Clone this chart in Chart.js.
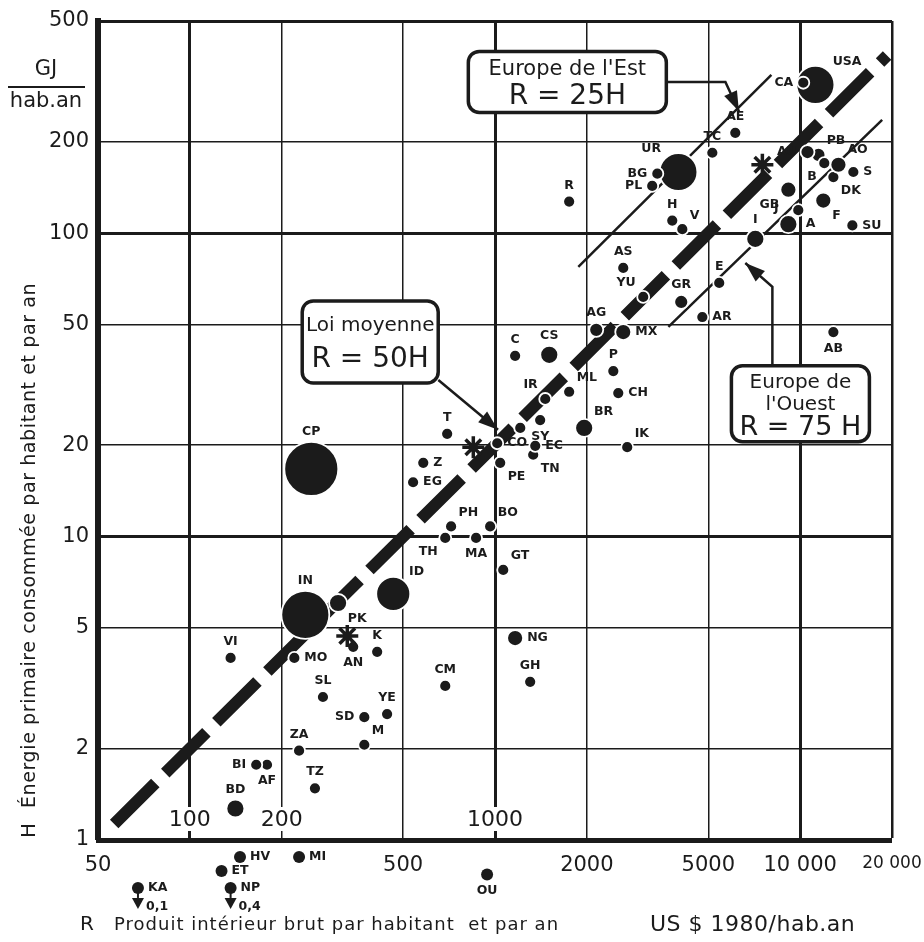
<!DOCTYPE html>
<html>
<head>
<meta charset="utf-8">
<script src="https://cdn.jsdelivr.net/npm/chart.js@4.4.1/dist/chart.umd.min.js"></script>
<style>
  html, body { margin: 0; padding: 0; background: #fff; }
  canvas { display: block; }
</style>
</head>
<body>
<canvas id="chart" width="924" height="942"></canvas>
<script>
// --- data (R = PIB US$/hab.an, H = GJ/hab.an) ---
var countries = ['USA', 'CA', 'UR', 'CP', 'IN', 'ID', 'BG', 'PL', 'AE', 'TC', 'R', 'H', 'V',
    'PB', 'AU', 'B', 'DK', 'S', 'AO', 'GB', 'F', 'A', 'J', 'SU', 'I', 'AS', 'YU', 'GR', 'E', 'AR',
    'AG', 'MX', 'AB', 'C', 'CS', 'P', 'CH', 'ML', 'IR', 'BR', 'IK', 'SY', '', 'TN', 'EC', 'CO',
    'PE', 'T', 'Z', 'EG', 'PH', 'BO', 'TH', 'MA', 'GT', 'PK', 'VI', 'MO', 'AN', 'K', 'SL', 'SD',
    'YE', 'ZA', 'M', 'AF', 'BI', 'TZ', 'BD', 'CM', 'NG', 'GH', 'HV', 'MI', 'ET', 'OU', 'KA', 'NP'];
var pib = [11220, 10240, 3990, 250, 239, 464, 3404, 3275, 6130, 5155, 1750, 3810, 4110,
    11480, 10570, 12000, 12850, 14940, 13350, 9150, 11910, 9860, 9150, 14830, 7130, 2632, 3060, 4077, 5430, 4780,
    2147, 2632, 12850, 1164, 1506, 2442, 2535, 1750, 1461, 1960, 2712, 1406, 1210, 1334, 1355, 1017,
    1040, 697, 582, 539, 718, 964, 687, 867, 1064, 306, 136, 220, 343, 411, 273, 373,
    443, 228, 373, 179, 165, 257, 141, 687, 1164, 1304, 146, 228, 127, 942, 67.6, 136];
var energie = [308, 313, 159, 16.7, 5.52, 6.47, 157, 143, 214, 184, 127, 110, 103,
    181, 185, 170, 153, 159, 168, 139, 128, 119, 107, 106, 95.7, 76.8, 61.6, 59.3, 68.5, 52.9,
    48.0, 47.2, 47.2, 39.4, 39.7, 35.1, 29.7, 30.0, 28.4, 22.8, 19.7, 24.2, 22.8, 18.6, 19.9, 20.3,
    17.5, 21.8, 17.5, 15.1, 10.8, 10.8, 9.9, 9.9, 7.76, 6.04, 3.98, 3.98, 4.33, 4.17, 2.96, 2.54,
    2.60, 1.97, 2.06, 1.77, 1.77, 1.48, 1.27, 3.22, 4.63, 3.32, 0.879, 0.879, 0.79, 0.77, 0.695, 0.695];
// true values of the two countries drawn below the frame
var offNotes = { KA: '0,1', NP: '0,4' };

// average markers (asterisks)
var starR = [849, 7520, 328];
var starH = [19.7, 168, 4.70];

// law lines, ends
var moyenneR = [56.5, 19270];
var moyenneH = [1.13, 385];
var estR = [1875, 8050];
var estH = [77.4, 332];
var ouestR = [3700, 18570];
var ouestH = [49.1, 236];

var xTicks = [50, 100, 200, 500, 1000, 2000, 5000, 10000, 20000];
var yTicks = [1, 2, 5, 10, 20, 50, 100, 200, 500];
var xInsideTicks = [100, 200, 1000];

// --- styles ---
var dotRadius = [19, 6, 19, 27, 24, 17, 6, 6, 6, 6, 6, 6, 6,
    7, 7, 6, 6, 6, 8, 8, 8, 6, 9, 6, 9, 6, 6, 7, 6, 6,
    7, 8, 6, 6, 9, 6, 6, 6, 6, 9, 6, 6, 6, 6, 6, 6,
    6, 6, 6, 6, 6, 6, 6, 6, 6, 9, 6, 6, 6, 6, 6, 6,
    6, 6, 6, 6, 6, 6, 9, 6, 8, 6, 6, 6, 6, 6, 6, 6];
var labelSide = ['tr', 'l', 'tl', 't', 't', 'tr', 'l', 'l', 't', 't', 't', 't', 'tr',
    'tr', 'l', 'bl', 'br', 'r', 'tr', 'bl', 'br', 'br', 'tl', 'r', 't', 't', 'tl', 't', 't', 'r',
    't', 'r', 'b', 't', 't', 't', 'r', 'tr', 'tl', 'tr', 'tr', 'b', '', 'br', 'r', 'r',
    'br', 't', 'r', 'r', 'tr', 'tr', 'bl', 'b', 'tr', 'br', 't', 'r', 'b', 't', 't', 'l',
    't', 't', 'tr', 'b', 'l', 't', 't', 't', 'r', 't', 'r', 'r', 'r', 'b', 'r', 'r'];
var ink = '#1b1b1b';

function pairs(xs, ys) {
    return xs.map(function (x, i) { return { x: x, y: ys[i] }; });
}

var callouts = [
    { rows: [["Europe de l'Est", 21, -12], ['R = 25H', 28, 15]], center: [1726, 315], w: 198, h: 61,
      arrow: [[3673, 315], [5690, 315], [6300, 252]] },
    { rows: [['Loi moyenne', 20, -16], ['R = 50H', 28, 18]], center: [390, 43.8], w: 136, h: 82,
      arrow: [[652, 32.8], [1023, 22.5]] },
    { rows: [['Europe de', 20, -21], ["l'Ouest", 20, 1], ['R = 75 H', 27, 24]], center: [10020, 27.4], w: 138, h: 76,
      arrow: [[8110, 36.5], [8110, 66.5], [6610, 79.7]] }
];

var pointLabels = {
    id: 'pointLabels',
    afterDatasetsDraw: function (chart) {
        var meta = chart.getDatasetMeta(3);
        var ctx = chart.ctx, area = chart.chartArea;
        ctx.save();
        ctx.fillStyle = ink;
        ctx.font = 'bold 12.5px "DejaVu Sans"';
        meta.data.forEach(function (el, i) {
            var name = countries[i];
            if (el.y > area.bottom) {
                // Chart.js skips points outside the frame: draw those here
                ctx.beginPath();
                ctx.arc(el.x, el.y, dotRadius[i], 0, Math.PI * 2);
                ctx.fill();
            }
            if (!name) return;
            var d = dotRadius[i] + 4;
            var side = labelSide[i];
            var dx = 0, dy = 0;
            if (side.indexOf('r') >= 0) dx = d;
            if (side.indexOf('l') >= 0) dx = -d;
            if (side.indexOf('t') >= 0) dy = -d;
            if (side.indexOf('b') >= 0) dy = d;
            if (side.length === 2) { dx *= 0.75; dy *= 0.75; }
            ctx.textAlign = dx > 0 ? 'left' : (dx < 0 ? 'right' : 'center');
            ctx.textBaseline = dy < 0 ? 'bottom' : (dy > 0 ? 'top' : 'middle');
            ctx.fillText(name, el.x + dx, el.y + dy);
            if (offNotes[name]) {
                // arrow down to the true value
                ctx.fillRect(el.x - 1, el.y, 2, 10);
                ctx.beginPath();
                ctx.moveTo(el.x - 6, el.y + 10);
                ctx.lineTo(el.x + 6, el.y + 10);
                ctx.lineTo(el.x, el.y + 21);
                ctx.closePath();
                ctx.fill();
                ctx.textAlign = 'left';
                ctx.textBaseline = 'middle';
                ctx.fillText(offNotes[name], el.x + 8, el.y + 19);
            }
        });
        ctx.restore();
    }
};

var calloutPlugin = {
    id: 'callouts',
    afterDatasetsDraw: function (chart) {
        var ctx = chart.ctx, sx = chart.scales.x, sy = chart.scales.y;
        ctx.save();
        callouts.forEach(function (c) {
            var cx = sx.getPixelForValue(c.center[0]), cy = sy.getPixelForValue(c.center[1]);
            var pts = c.arrow.map(function (p) { return [sx.getPixelForValue(p[0]), sy.getPixelForValue(p[1])]; });
            // arrow
            ctx.strokeStyle = ink;
            ctx.fillStyle = ink;
            ctx.lineWidth = 2.5;
            ctx.beginPath();
            ctx.moveTo(pts[0][0], pts[0][1]);
            for (var i = 1; i < pts.length; i++) ctx.lineTo(pts[i][0], pts[i][1]);
            ctx.stroke();
            var a = pts[pts.length - 2], b = pts[pts.length - 1];
            var ang = Math.atan2(b[1] - a[1], b[0] - a[0]);
            ctx.beginPath();
            ctx.moveTo(b[0], b[1]);
            ctx.lineTo(b[0] - 20 * Math.cos(ang) + 7 * Math.sin(ang), b[1] - 20 * Math.sin(ang) - 7 * Math.cos(ang));
            ctx.lineTo(b[0] - 20 * Math.cos(ang) - 7 * Math.sin(ang), b[1] - 20 * Math.sin(ang) + 7 * Math.cos(ang));
            ctx.closePath();
            ctx.fill();
            // box
            ctx.beginPath();
            ctx.roundRect(cx - c.w / 2, cy - c.h / 2, c.w, c.h, 11);
            ctx.fillStyle = '#fff';
            ctx.fill();
            ctx.lineWidth = 3.5;
            ctx.stroke();
            ctx.fillStyle = ink;
            ctx.textAlign = 'center';
            ctx.textBaseline = 'middle';
            c.rows.forEach(function (r) {
                ctx.font = r[1] + 'px "DejaVu Sans"';
                ctx.fillText(r[0], cx, cy + r[2]);
            });
        });
        ctx.restore();
    }
};

var axisText = {
    id: 'axisText',
    afterDraw: function (chart) {
        var ctx = chart.ctx, sx = chart.scales.x, area = chart.chartArea;
        ctx.save();
        ctx.fillStyle = ink;
        // x tick labels set inside the frame
        ctx.font = '22px "DejaVu Sans"';
        ctx.textAlign = 'center';
        ctx.textBaseline = 'middle';
        xInsideTicks.forEach(function (v) {
            var px = sx.getPixelForValue(v);
            var w = ctx.measureText(String(v)).width;
            ctx.fillStyle = '#fff';
            ctx.fillRect(px - w / 2 - 3, area.bottom - 33, w + 6, 24);
            ctx.fillStyle = ink;
            ctx.fillText(String(v), px, area.bottom - 20);
        });
        // unit on the y axis
        ctx.font = '21px "DejaVu Sans"';
        ctx.fillText('GJ', 46, 70);
        ctx.fillRect(8, 86, 77, 2);
        ctx.fillText('hab.an', 46, 102);
        // y title, rotated
        ctx.save();
        ctx.translate(30, 0);
        ctx.rotate(-Math.PI / 2);
        ctx.textAlign = 'left';
        ctx.font = '20px "DejaVu Sans"';
        ctx.fillText('H', -838, 0);
        ctx.font = '19px "DejaVu Sans"';
        ctx.letterSpacing = '0.6px';
        ctx.fillText('Énergie primaire consommée par habitant et par an', -808, 0);
        ctx.restore();
        // x title
        ctx.textAlign = 'left';
        ctx.font = '20px "DejaVu Sans"';
        ctx.fillText('R', 80, 925);
        ctx.font = '18px "DejaVu Sans"';
        ctx.letterSpacing = '1px';
        ctx.fillText('Produit intérieur brut par habitant  et par an', 114, 925);
        ctx.letterSpacing = '0.5px';
        ctx.font = '22px "DejaVu Sans"';
        ctx.fillText('US \u0024 1980/hab.an', 650, 925);
        ctx.restore();
    }
};

new Chart(document.getElementById('chart'), {
    type: 'scatter',
    data: {
        datasets: [
            { data: pairs(moyenneR, moyenneH), showLine: true, pointRadius: 0, borderColor: ink,
              borderWidth: 12, borderDash: [58, 14], borderCapStyle: 'butt', order: 3 },
            { data: pairs(estR, estH), showLine: true, pointRadius: 0, borderColor: ink, borderWidth: 2.5, order: 3 },
            { data: pairs(ouestR, ouestH), showLine: true, pointRadius: 0, borderColor: ink, borderWidth: 2.5, order: 3 },
            { data: pairs(pib, energie), pointRadius: dotRadius, backgroundColor: ink,
              borderColor: '#fff', borderWidth: 1.8, clip: false, order: 1 },
            { data: pairs(starR, starH), pointStyle: 'star', pointRadius: 11, borderColor: ink,
              borderWidth: 3.5, backgroundColor: ink, order: 0 }
        ]
    },
    options: {
        responsive: false,
        animation: false,
        events: [],
        layout: { autoPadding: false, padding: { top: 21, right: 32, left: 0, bottom: 0 } },
        plugins: { legend: { display: false }, tooltip: { enabled: false } },
        scales: {
            x: {
                type: 'logarithmic', min: 50, max: 20000,
                afterBuildTicks: function (s) { s.ticks = xTicks.map(function (v) { return { value: v }; }); },
                afterFit: function (s) { s.height = 102; s.paddingLeft = 0; s.paddingRight = 0; },
                ticks: {
                    autoSkip: false, maxRotation: 0, padding: 13, color: ink,
                    font: function (c) { return { family: 'DejaVu Sans', size: c.tick && c.tick.value === 20000 ? 17 : 21 }; },
                    callback: function (v) {
                        if (xInsideTicks.indexOf(v) >= 0) return '';
                        if (v >= 10000) return String(v / 1000) + ' 000';
                        return String(v);
                    }
                },
                grid: {
                    drawTicks: false, color: ink,
                    lineWidth: function (c) {
                        var v = c.tick && c.tick.value;
                        if (v === 50) return 0;
                        if (v === 100 || v === 1000 || v === 10000) return 3;
                        if (v === 20000) return 2.5;
                        return 1.5;
                    }
                },
                border: { width: 5, color: ink }
            },
            y: {
                type: 'logarithmic', min: 1, max: 500,
                afterBuildTicks: function (s) { s.ticks = yTicks.map(function (v) { return { value: v }; }); },
                afterFit: function (s) { s.width = 98; s.paddingTop = 0; s.paddingBottom = 0; },
                ticks: {
                    autoSkip: false, padding: 9, color: ink,
                    font: { family: 'DejaVu Sans', size: 21 },
                    callback: function (v) { return String(v); }
                },
                grid: {
                    drawTicks: false, color: ink,
                    lineWidth: function (c) {
                        var v = c.tick && c.tick.value;
                        if (v === 1) return 0;
                        if (v === 10 || v === 100 || v === 500) return 3;
                        return 1.5;
                    }
                },
                border: { width: 6, color: ink }
            }
        }
    },
    plugins: [pointLabels, calloutPlugin, axisText]
});
</script>
</body>
</html>
